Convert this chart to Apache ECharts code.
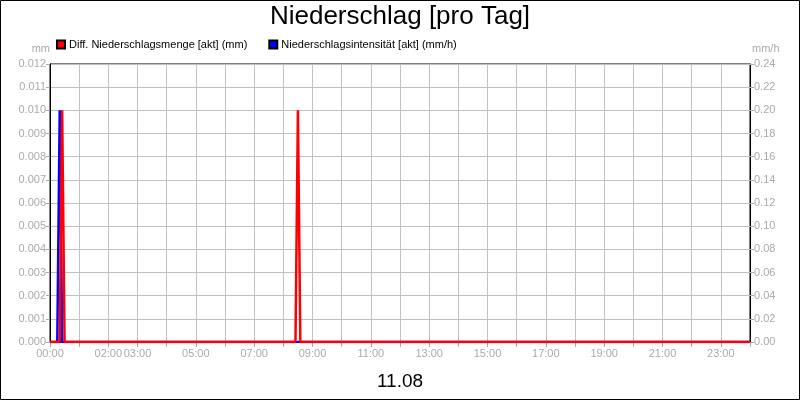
<!DOCTYPE html>
<html><head><meta charset="utf-8">
<script src="https://cdn.jsdelivr.net/npm/echarts@6/dist/echarts.min.js"></script>
<style>html,body{margin:0;padding:0;background:#fff}#c{width:800px;height:400px}</style>
</head><body><div id="c"></div>
<script>
// time in minutes since 00:00
const xTickLabels = ['00:00','02:00','03:00','05:00','07:00','09:00','11:00','13:00','15:00','17:00','19:00','21:00','23:00'];
const mengeTimes = [0, 20, 25, 30, 505, 510, 515, 1440];
const mengeValues = [0, 0, 0.010, 0, 0, 0.010, 0, 0];
const intensTimes = [0, 15, 20, 25, 1440];
const intensValues = [0, 0, 0.20, 0, 0];
const seriesNames = ['Diff. Niederschlagsmenge [akt] (mm)', 'Niederschlagsintensität [akt] (mm/h)'];
const dateLabel = '11.08';

const pad = n => (n < 10 ? '0' : '') + n;
const font = 'Arial, "Liberation Sans", sans-serif';
const chart = echarts.init(document.getElementById('c'));
chart.setOption({
  animation: false,
  graphic: [{ type: 'rect', shape: { x: 0.5, y: 0.5, width: 799, height: 399 },
    style: { fill: null, stroke: '#000', lineWidth: 1 }, silent: true }],
  title: [
    { text: 'Niederschlag [pro Tag]', left: 'center', top: 4, padding: 0,
      textStyle: { fontFamily: font, fontSize: 26, fontWeight: 'normal', color: '#000' } },
    { text: dateLabel, left: 'center', top: 372, padding: 0,
      textStyle: { fontFamily: font, fontSize: 19, fontWeight: 'normal', color: '#000' } }
  ],
  legend: { data: seriesNames, left: 56, top: 39, padding: 0, itemWidth: 8, itemHeight: 8, itemGap: 21,
    icon: 'rect', textStyle: { fontFamily: font, fontSize: 11, color: '#000', padding: [0,0,0,-1] } },
  grid: { left: 50, right: 50, top: 64, bottom: 58, show: true, borderColor: '#000', borderWidth: 1 },
  xAxis: {
    type: 'value', min: 0, max: 1440, interval: 60,
    axisLine: { show: true, lineStyle: { color: '#000' } },
    axisTick: { show: true, length: 5, lineStyle: { color: '#aaa' } },
    axisLabel: { fontFamily: font, fontSize: 11, color: '#aaa', margin: 6,
      formatter: v => { const s = pad(Math.floor(v / 60)) + ':00'; return xTickLabels.includes(s) && v % 60 === 0 ? s : ''; } },
    splitLine: { show: true, lineStyle: { color: '#c0c0c0' } }
  },
  yAxis: [
    { type: 'value', min: 0, max: 0.012, interval: 0.001, name: 'mm', nameGap: 10,
      nameTextStyle: { fontFamily: font, fontSize: 11, color: '#aaa', align: 'right', padding: [0, 0, 0, 0] },
      axisLine: { show: true, lineStyle: { color: '#000' } },
      axisTick: { show: true, length: 4, lineStyle: { color: '#aaa' } },
      axisLabel: { fontFamily: font, fontSize: 11, color: '#aaa', margin: 4, formatter: v => v.toFixed(3) },
      splitLine: { show: true, lineStyle: { color: '#c0c0c0' } } },
    { type: 'value', min: 0, max: 0.24, interval: 0.02, name: 'mm/h', nameGap: 10,
      nameTextStyle: { fontFamily: font, fontSize: 11, color: '#aaa', align: 'left', padding: [0, 0, 0, 2] },
      axisLine: { show: true, lineStyle: { color: '#000' } },
      axisTick: { show: true, length: 4, lineStyle: { color: '#aaa' } },
      axisLabel: { fontFamily: font, fontSize: 11, color: '#aaa', margin: 4, formatter: v => v.toFixed(2) },
      splitLine: { show: false } }
  ],
  series: [
    { name: seriesNames[1], type: 'line', yAxisIndex: 1, showSymbol: false, z: 2,
      color: '#0000ff', itemStyle: { color: '#0000ff', borderColor: '#000', borderWidth: 1 },
      lineStyle: { width: 2.5, color: '#0000ff' },
      data: intensTimes.map((t, i) => [t, intensValues[i]]) },
    { name: seriesNames[0], type: 'line', yAxisIndex: 0, showSymbol: false, z: 3,
      color: '#ff0000', itemStyle: { color: '#ff0000', borderColor: '#000', borderWidth: 1 },
      lineStyle: { width: 2.5, color: '#ff0000' },
      data: mengeTimes.map((t, i) => [t, mengeValues[i]]) }
  ]
});
</script></body></html>
